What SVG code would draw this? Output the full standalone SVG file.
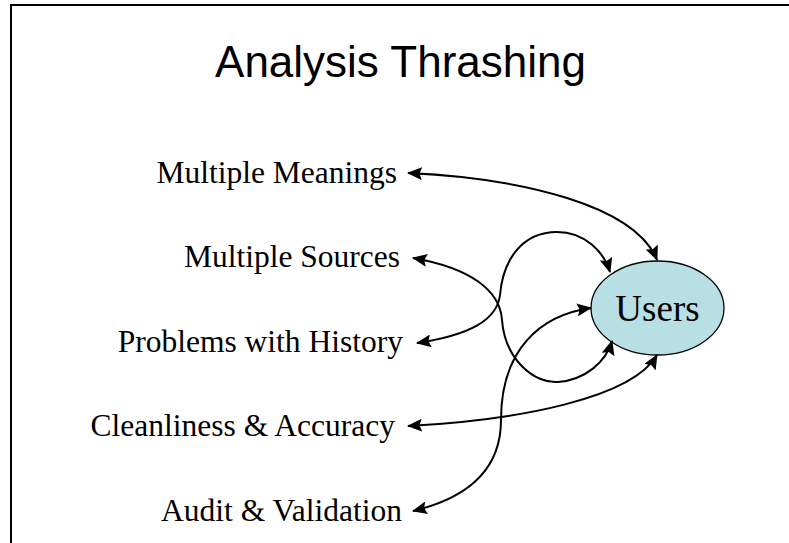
<svg xmlns="http://www.w3.org/2000/svg" width="789" height="543" viewBox="0 0 789 543">
  <style>
    .frame { fill: none; stroke: #000; stroke-width: 2; }
    .title { font-family: "Liberation Sans", Arial, sans-serif; font-size: 44px; fill: #000; }
    .label { font-family: "Liberation Serif", "Times New Roman", serif; font-size: 31.5px; fill: #000; text-anchor: end; }
    .users-shape { fill: #b8dfe4; stroke: #000; stroke-width: 1.3; }
    .users-text { font-family: "Liberation Serif", "Times New Roman", serif; font-size: 37px; fill: #000; text-anchor: middle; }
    .link { fill: none; stroke: #000; stroke-width: 2; marker-start: url(#head); marker-end: url(#head); }
  </style>
  <defs>
    <marker id="head" markerUnits="userSpaceOnUse" markerWidth="15" markerHeight="13" viewBox="0 0 15 13" refX="14" refY="6.5" orient="auto-start-reverse">
      <path d="M0,0 L15,6.5 L0,13 L2.5,6.5 Z" fill="#000"/>
    </marker>
  </defs>

  <rect class="frame" x="11" y="5" width="800" height="560"/>

  <text class="title" x="400.5" y="77" text-anchor="middle">Analysis Thrashing</text>

  <g id="multiple-meanings">
    <text class="label" x="397" y="183">Multiple Meanings</text>
  </g>
  <g id="multiple-sources">
    <text class="label" x="400" y="267">Multiple Sources</text>
  </g>
  <g id="problems-with-history">
    <text class="label" x="403" y="352">Problems with History</text>
  </g>
  <g id="cleanliness-accuracy">
    <text class="label" x="395" y="436">Cleanliness &amp; Accuracy</text>
  </g>
  <g id="audit-validation">
    <text class="label" x="402" y="521">Audit &amp; Validation</text>
  </g>

  <g id="users">
    <ellipse class="users-shape" cx="657.5" cy="308" rx="66.5" ry="47"/>
    <text class="users-text" x="657.5" y="321">Users</text>
  </g>

  <g id="connectors">
    <path class="link" d="M408,173 C520,178 635,205 657,260"/>
    <path class="link" d="M413,258 C470,268 500,290 502,320 C505,360 535,384 558,382 C585,380 606,362 612,341"/>
    <path class="link" d="M417,343 C470,335 497,320 500,295 C503,260 522,232 557,232 C585,232 604,252 610,272"/>
    <path class="link" d="M408,426 C520,420 632,398 657,355"/>
    <path class="link" d="M413,511 C480,495 501,460 501,420 C501,350 540,315 591,308"/>
  </g>
</svg>
